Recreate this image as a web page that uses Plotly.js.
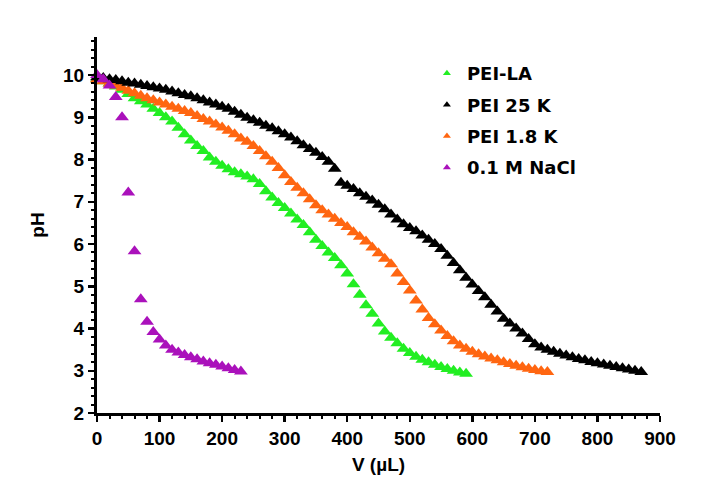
<!DOCTYPE html>
<html>
<head>
<meta charset="utf-8">
<script src="https://cdn.plot.ly/plotly-3.0.1.min.js"></script>
<style>html,body{margin:0;padding:0;background:#fff;}#chart{width:707px;height:484px;}</style>
</head>
<body>
<div id="chart"></div>
<script>
// Volumes (µL) and pH readings
var vLA = [0,10,20,30,40,50,60,70,80,90,100,110,120,130,140,150,160,170,180,190,200,210,220,230,240,250,260,270,280,290,300,310,320,330,340,350,360,370,380,390,400,410,420,430,440,450,460,470,480,490,500,510,520,530,540,550,560,570,580,590];
var pHLA = [9.9,9.85,9.8,9.73,9.65,9.55,9.45,9.38,9.3,9.2,9.1,9.0,8.9,8.75,8.6,8.45,8.32,8.2,8.05,7.95,7.85,7.77,7.7,7.65,7.6,7.53,7.42,7.25,7.1,6.97,6.85,6.72,6.58,6.45,6.28,6.1,5.95,5.8,5.67,5.5,5.3,5.05,4.8,4.55,4.35,4.12,3.93,3.78,3.65,3.52,3.42,3.33,3.26,3.2,3.14,3.09,3.04,3.0,2.96,2.93];

var v25K = [0,10,20,30,40,50,60,70,80,90,100,110,120,130,140,150,160,170,180,190,200,210,220,230,240,250,260,270,280,290,300,310,320,330,340,350,360,370,380,390,400,410,420,430,440,450,460,470,480,490,500,510,520,530,540,550,560,570,580,590,600,610,620,630,640,650,660,670,680,690,700,710,720,730,740,750,760,770,780,790,800,810,820,830,840,850,860,870];
var pH25K = [9.95,9.93,9.9,9.88,9.85,9.82,9.8,9.77,9.74,9.71,9.68,9.65,9.61,9.57,9.53,9.5,9.45,9.4,9.35,9.3,9.25,9.2,9.13,9.06,8.99,8.93,8.87,8.8,8.74,8.67,8.6,8.52,8.43,8.34,8.25,8.16,8.06,7.95,7.78,7.45,7.38,7.3,7.2,7.12,7.03,6.93,6.82,6.7,6.58,6.47,6.38,6.3,6.2,6.1,6.0,5.88,5.72,5.55,5.38,5.2,5.04,4.89,4.74,4.56,4.4,4.23,4.12,4.0,3.88,3.75,3.63,3.55,3.5,3.45,3.4,3.36,3.32,3.28,3.25,3.21,3.18,3.15,3.12,3.09,3.06,3.03,3.0,2.97];

var v18K = [0,10,20,30,40,50,60,70,80,90,100,110,120,130,140,150,160,170,180,190,200,210,220,230,240,250,260,270,280,290,300,310,320,330,340,350,360,370,380,390,400,410,420,430,440,450,460,470,480,490,500,510,520,530,540,550,560,570,580,590,600,610,620,630,640,650,660,670,680,690,700,710,720];
var pH18K = [9.9,9.85,9.8,9.75,9.7,9.63,9.57,9.51,9.45,9.4,9.35,9.3,9.25,9.2,9.15,9.1,9.03,8.96,8.9,8.83,8.76,8.68,8.6,8.5,8.42,8.32,8.2,8.08,7.95,7.8,7.63,7.47,7.33,7.2,7.06,6.92,6.8,6.7,6.6,6.5,6.4,6.28,6.17,6.06,5.92,5.78,5.65,5.52,5.3,5.1,4.9,4.66,4.45,4.25,4.1,3.95,3.82,3.7,3.6,3.52,3.45,3.39,3.34,3.29,3.25,3.2,3.16,3.12,3.08,3.05,3.02,2.99,2.97];

var vNaCl = [0,10,20,30,40,50,60,70,80,90,100,110,120,130,140,150,160,170,180,190,200,210,220,230];
var pHNaCl = [10.0,9.9,9.75,9.48,9.0,7.22,5.83,4.69,4.16,3.92,3.74,3.6,3.5,3.43,3.37,3.32,3.27,3.22,3.18,3.14,3.1,3.06,3.02,2.98];

var names = ["PEI-LA","PEI 25 K","PEI 1.8 K","0.1 M NaCl"];
var colors = ["#22EE22","#000000","#FF6611","#AA11BB"];
var xTicks = [0,100,200,300,400,500,600,700,800,900];
var yTicks = [2,3,4,5,6,7,8,9,10];

var FONT = "Liberation Sans, Arial, sans-serif";
var LFONT = "DejaVu Sans, sans-serif";
function tr(x, y, i) {
  return {
    x: x, y: y, type: "scatter", mode: "markers", name: names[i],
    showlegend: false, cliponaxis: false, hoverinfo: "skip",
    marker: {symbol: "triangle-up", size: 12, color: colors[i], line: {width: 0}}
  };
}
function leg(i) {
  return {
    x: [null], y: [null], type: "scatter", mode: "markers", name: names[i],
    legendgroup: "g" + i, legendrank: i + 1, showlegend: true,
    marker: {symbol: "triangle-up", size: 7, color: colors[i], line: {width: 0}}
  };
}
var data = [
  tr(vLA, pHLA, 0),
  tr(v18K, pH18K, 2),
  tr(v25K, pH25K, 1),
  tr(vNaCl, pHNaCl, 3),
  leg(0), leg(1), leg(2), leg(3)
];

var axisCommon = {
  showgrid: false, zeroline: false, showline: true, linecolor: "#000", linewidth: 3,
  ticks: "outside", ticklen: 6, tickwidth: 2.5, tickcolor: "#000",
  tickfont: {family: FONT, size: 19, color: "#000", weight: "bold"}
};
var layout = {
  width: 707, height: 484,
  margin: {l: 97, r: 47, t: 37, b: 71},
  paper_bgcolor: "#fff", plot_bgcolor: "#fff",
  showlegend: true,
  legend: {x: 0.586, y: 0.952, xanchor: "left", yanchor: "top",
    traceorder: "grouped", tracegroupgap: 5, itemsizing: "trace",
    font: {family: LFONT, size: 18, color: "#000", weight: "bold"},
    bgcolor: "rgba(0,0,0,0)"},
  xaxis: Object.assign({}, axisCommon, {
    range: [0, 900], tickmode: "array", tickvals: xTicks, ticktext: xTicks.map(String),
    minor: {dtick: 20, ticks: "outside", ticklen: 3, tickwidth: 2, tickcolor: "#000"},
    title: {text: "V (µL)", standoff: 10, font: {family: FONT, size: 19, color: "#000", weight: "bold"}}
  }),
  yaxis: Object.assign({}, axisCommon, {
    range: [2, 10.9], tickmode: "array", tickvals: yTicks, ticktext: yTicks.map(String),
    minor: {dtick: 0.2, ticks: "outside", ticklen: 3, tickwidth: 2, tickcolor: "#000"},
    title: {text: "pH", standoff: 14, font: {family: FONT, size: 19, color: "#000", weight: "bold"}}
  })
};
Plotly.newPlot("chart", data, layout, {displayModeBar: false, staticPlot: true});
</script>
</body>
</html>
